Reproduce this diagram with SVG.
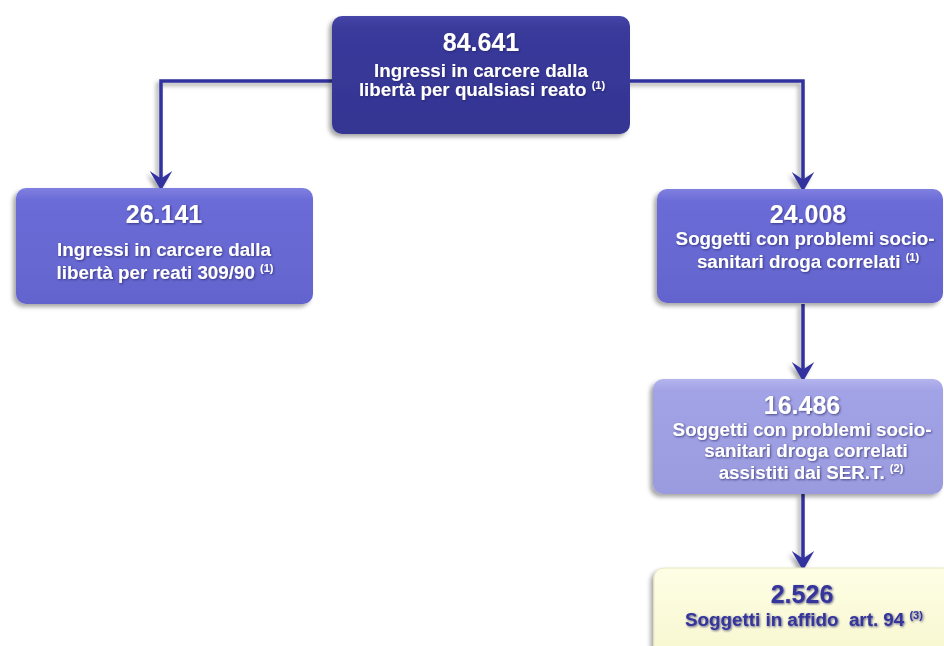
<svg xmlns="http://www.w3.org/2000/svg" width="944" height="646" viewBox="0 0 944 646">
<defs>
<filter id="sh" x="-10%" y="-10%" width="120%" height="130%">
<feGaussianBlur in="SourceAlpha" stdDeviation="2"/>
<feOffset dx="-3" dy="3" result="b"/>
<feFlood flood-color="#000" flood-opacity="0.35"/>
<feComposite in2="b" operator="in"/>
<feMerge><feMergeNode/><feMergeNode in="SourceGraphic"/></feMerge>
</filter>
<filter id="tsh" x="-5%" y="-20%" width="110%" height="140%">
<feGaussianBlur in="SourceAlpha" stdDeviation="1"/>
<feOffset dx="0.5" dy="1" result="b"/>
<feFlood flood-color="#202060" flood-opacity="0.7"/>
<feComposite in2="b" operator="in"/>
<feMerge><feMergeNode/><feMergeNode in="SourceGraphic"/></feMerge>
</filter>
<linearGradient id="g1" x1="0" y1="0" x2="0" y2="1"><stop offset="0" stop-color="#4646a8"/><stop offset="0.1" stop-color="#3a3a9c"/><stop offset="1" stop-color="#343492"/></linearGradient>
<linearGradient id="g2" x1="0" y1="0" x2="0" y2="1"><stop offset="0" stop-color="#8080e0"/><stop offset="0.1" stop-color="#6c6cd8"/><stop offset="1" stop-color="#6464ce"/></linearGradient>
<linearGradient id="g3" x1="0" y1="0" x2="0" y2="1"><stop offset="0" stop-color="#b4b4ee"/><stop offset="0.1" stop-color="#a2a2e6"/><stop offset="1" stop-color="#9a9ade"/></linearGradient>
<linearGradient id="g4" x1="0" y1="0" x2="0" y2="1"><stop offset="0" stop-color="#fefee6"/><stop offset="1" stop-color="#f6f6cc"/></linearGradient>
<marker id="ah" markerUnits="userSpaceOnUse" markerWidth="30" markerHeight="30" viewBox="-15 -10 20 20" refX="-5" refY="0" orient="auto" overflow="visible">
<path d="M0,0 L-13,-7.5 L-8,0 L-13,7.5 Z" fill="#33339e"/>
</marker>
<style>
.n{font-family:"Liberation Sans",Arial,sans-serif;font-weight:bold;text-anchor:middle}
.w{fill:#ffffff}
.d{fill:#34349c}
.big{font-size:25px}
.lab{font-size:18.8px}
.sup{font-size:11px}
.c{fill:none;stroke:#33339e;stroke-width:3.5}
</style>
</defs>
<g id="connectors" filter="url(#sh)">
<path class="c" d="M333,81 H161 V183" marker-end="url(#ah)"/>
<path class="c" d="M629,81 H803 V184" marker-end="url(#ah)"/>
<path class="c" d="M803,304 V374" marker-end="url(#ah)"/>
<path class="c" d="M803,494 V563" marker-end="url(#ah)"/>
</g>
<g id="n1">
<rect x="332" y="16" width="298" height="118" rx="10" fill="url(#g1)" filter="url(#sh)"/>
<g class="n w" filter="url(#tsh)">
<text class="big" x="481" y="51">84.641</text>
<text class="lab" x="481" y="77">Ingressi in carcere dalla</text>
<text class="lab" x="482" y="96">libertà per qualsiasi reato <tspan class="sup" dy="-7">(1)</tspan></text>
</g>
</g>
<g id="n2">
<rect x="16" y="188" width="297" height="116" rx="10" fill="url(#g2)" filter="url(#sh)"/>
<g class="n w" filter="url(#tsh)">
<text class="big" x="164" y="223">26.141</text>
<text class="lab" x="164" y="256">Ingressi in carcere dalla</text>
<text class="lab" x="165" y="279">libertà per reati 309/90 <tspan class="sup" dy="-7">(1)</tspan></text>
</g>
</g>
<g id="n3">
<rect x="657" y="189" width="286" height="114" rx="10" fill="url(#g2)" filter="url(#sh)"/>
<g class="n w" filter="url(#tsh)">
<text class="big" x="808" y="223">24.008</text>
<text class="lab" x="805" y="245">Soggetti con problemi socio-</text>
<text class="lab" x="808" y="268">sanitari droga correlati <tspan class="sup" dy="-7">(1)</tspan></text>
</g>
</g>
<g id="n4">
<rect x="653" y="379" width="290" height="115" rx="10" fill="url(#g3)" filter="url(#sh)"/>
<g class="n w" filter="url(#tsh)">
<text class="big" x="802" y="414">16.486</text>
<text class="lab" x="802" y="436">Soggetti con problemi socio-</text>
<text class="lab" x="806" y="457">sanitari droga correlati</text>
<text class="lab" x="811" y="479">assistiti dai SER.T. <tspan class="sup" dy="-7">(2)</tspan></text>
</g>
</g>
<g id="n5">
<rect x="654" y="568" width="300" height="100" rx="10" fill="url(#g4)" stroke="#e8e8c0" stroke-width="1" filter="url(#sh)"/>
<g class="n d" filter="url(#tsh)">
<text class="big" x="802" y="603">2.526</text>
<text class="lab" x="804" y="626">Soggetti in affido&#160; art. 94 <tspan class="sup" dy="-7">(3)</tspan></text>
</g>
</g>
</svg>
